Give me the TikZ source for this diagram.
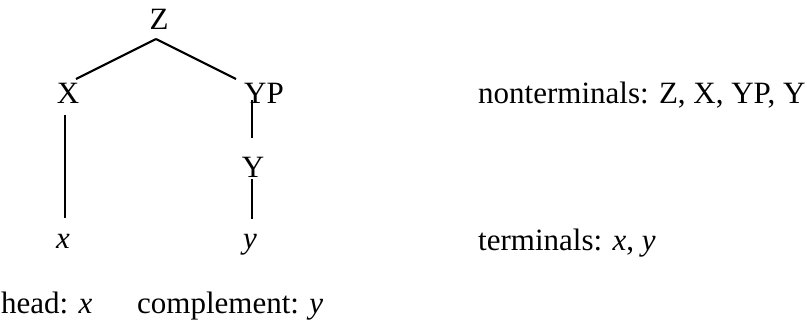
\documentclass[tikz,border=0pt]{standalone}
\usepackage{fontspec}
\setmainfont{Liberation Serif}
\begin{document}
\begin{tikzpicture}[x=1pt,y=-1pt,
  lbl/.style={anchor=base,inner sep=0pt,font=\fontsize{31}{37}\selectfont},
  txt/.style={anchor=base west,inner sep=0pt,font=\fontsize{31}{37}\selectfont},
  edge/.style={line width=2.2pt}]
\useasboundingbox (0,0) rectangle (807,330);
\node[lbl] (Z) at (159,29) {Z};
\node[lbl] (X) at (68,103) {X};
\node[lbl] (YP) at (264,103) {YP};
\node[lbl] (Y) at (253,177) {Y};
\node[lbl] (x) at (63,248) {\textit{x}};
\node[lbl] (y) at (250,248) {\textit{y}};
\node[txt] (nt) at (478,103) {nonterminals: Z, X, YP, Y};
\node[txt] (t) at (478,250) {terminals: \textit{x}, \textit{y}};
\node[txt] (h) at (1,313) {head: \textit{x}};
\node[txt] (c) at (137,313) {complement: \textit{y}};
\draw[edge] ([shift={(-3,10)}]Z.base) -- ([shift={(8,-24)}]X.base);
\draw[edge] ([shift={(-3,10)}]Z.base) -- ([shift={(-28,-24)}]YP.base);
\draw[edge] ([shift={(-3,12)}]X.base) -- ([shift={(2,-30)}]x.base);
\draw[edge] ([shift={(-12,-3)}]YP.base) -- ([shift={(-1,-39)}]Y.base);
\draw[edge] ([shift={(-1,2)}]Y.base) -- ([shift={(2,-29)}]y.base);
\end{tikzpicture}
\end{document}
